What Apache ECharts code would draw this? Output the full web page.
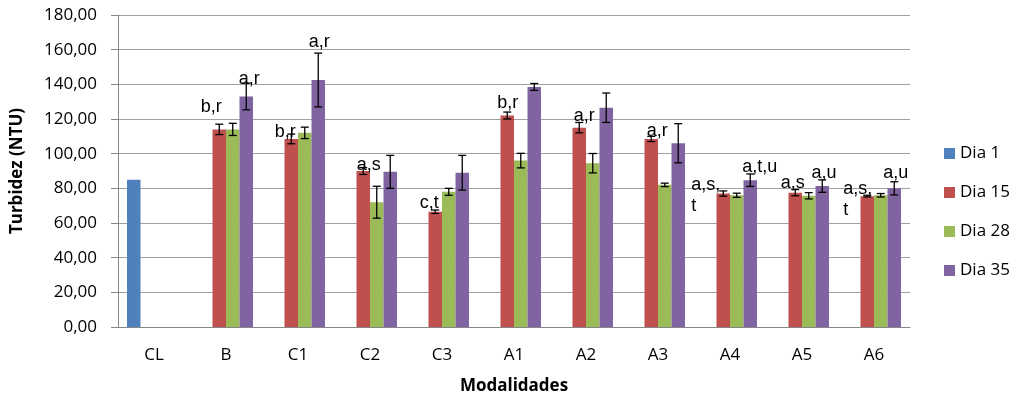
<!DOCTYPE html>
<html>
<head>
<meta charset="utf-8">
<script src="https://cdn.jsdelivr.net/npm/echarts@6/dist/echarts.min.js"></script>
<style>html,body{margin:0;padding:0;background:#fff;}#c{width:1019px;height:400px;}</style>
</head>
<body>
<div id="c"></div>
<script>
// ---- data ----
const categories = ['CL', 'B', 'C1', 'C2', 'C3', 'A1', 'A2', 'A3', 'A4', 'A5', 'A6'];
const seriesNames = ['Dia 1', 'Dia 15', 'Dia 28', 'Dia 35'];
const dia1  = [85, null, null, null, null, null, null, null, null, null, null];
const dia15 = [null, 114, 108.5, 90, 66.5, 122, 115, 108.5, 77, 77.5, 75.5];
const dia28 = [null, 114, 112, 72, 78, 96, 94.5, 82, 76, 75.7, 76];
const dia35 = [null, 133, 142.5, 89.5, 89, 138.5, 126.5, 106, 84.7, 81.3, 80];
const err1  = [null, null, null, null, null, null, null, null, null, null, null];
const err15 = [null, 3, 2.8, 2, 1, 2, 3, 1.5, 1.5, 1.8, 0.5];
const err28 = [null, 3.5, 3.3, 9.2, 2, 4.2, 5.6, 1, 1.2, 1.8, 1];
const err35 = [null, 7.7, 15.5, 9.5, 10, 2, 8.5, 11.3, 3.6, 3.6, 3.8];
const notes1  = ['', '', '', '', '', '', '', '', '', '', ''];
const notes15 = ['', 'b,r', 'b,r', 'a,s', 'c,t', 'b,r', 'a,r', 'a,r', 'a,s,\nt', 'a,s', 'a,s,\nt'];
const notes28 = ['', '', '', '', '', '', '', '', '', '', ''];
const notes35 = ['', 'a,r', 'a,r', '', '', '', '', '', 'a,t,u', 'a,u', 'a,u'];
const yTicks = {min: 0, max: 180, interval: 20};

// ---- layout / style (not data) ----
const colors = ['#4F81BD', '#C0504D', '#9BBB59', '#8064A2'];
const noteOffsets = [
  null,
  [null, [-8, -13], [-6, 2], [5.5, 3], [-6, 0], [0.5, -4], [5, -3], [6, 1], [-32, 23], [-2.5, -1], [-24, 24]],
  null,
  [null, [3, -8], [1, -29], null, null, null, null, null, [9.5, -4], [1.7, -3.7], [1.5, -6.7]]
];

const values = [dia1, dia15, dia28, dia35];
const errs = [err1, err15, err28, err35];
const notes = [notes1, notes15, notes28, notes35];
const nSeries = 4;
const catGap = 0.25;

const series = [];
values.forEach((vals, s) => {
  series.push({
    name: seriesNames[s],
    type: 'bar',
    barGap: '0%',
    barCategoryGap: '25%',
    itemStyle: {color: colors[s]},
    z: 2,
    data: vals.map((v, i) => {
      const txt = notes[s][i];
      const item = {value: v};
      if (txt) {
        const off = noteOffsets[s][i] || [0, 0];
        const multi = txt.indexOf('\n') >= 0;
        item.label = {
          show: true,
          position: 'top',
          distance: 0,
          formatter: txt,
          offset: off,
          align: multi ? 'left' : 'center',
          verticalAlign: 'bottom',
          fontFamily: 'Liberation Sans',
          fontSize: 18,
          lineHeight: multi ? 21 : 18,
          color: '#000'
        };
      }
      return item;
    })
  });
});

values.forEach((vals, s) => {
  series.push({
    name: seriesNames[s] + ' err',
    type: 'custom',
    z: 5,
    silent: true,
    data: vals.map((v, i) => (v == null || errs[s][i] == null) ? null : [i, v, errs[s][i]]).filter(d => d),
    encode: {x: 0, y: 1},
    renderItem: function (params, api) {
      const ci = api.value(0), v = api.value(1), e = api.value(2);
      const band = api.size([1, 0])[0];
      const bw = band * (1 - catGap) / nSeries;
      const c = api.coord([ci, v]);
      const x = c[0] + (s - (nSeries - 1) / 2) * bw;
      const yt = api.coord([ci, v + e])[1];
      const yb = api.coord([ci, v - e])[1];
      const cap = 4;
      const st = {stroke: '#000', lineWidth: 1.3};
      return {
        type: 'group',
        children: [
          {type: 'line', shape: {x1: x, y1: yt, x2: x, y2: yb}, style: st},
          {type: 'line', shape: {x1: x - cap, y1: yt, x2: x + cap, y2: yt}, style: st},
          {type: 'line', shape: {x1: x - cap, y1: yb, x2: x + cap, y2: yb}, style: st}
        ]
      };
    }
  });
});

const chart = echarts.init(document.getElementById('c'), null, {renderer: 'canvas'});
chart.setOption({
  animation: false,
  backgroundColor: '#fff',
  grid: {left: 118, right: 109, top: 15, bottom: 72, containLabel: false},
  legend: {
    data: seriesNames,
    orient: 'vertical',
    left: 944,
    top: 145,
    padding: 0,
    itemWidth: 11,
    itemHeight: 11,
    itemGap: 22,
    icon: 'rect',
    textStyle: {fontFamily: 'Open Sans', fontSize: 17, color: '#000', lineHeight: 16}
  },
  xAxis: {
    type: 'category',
    data: categories,
    name: 'Modalidades',
    nameLocation: 'middle',
    nameGap: 51,
    nameTextStyle: {fontFamily: 'Open Sans', fontSize: 17, fontWeight: 'bold', color: '#000', verticalAlign: 'top'},
    axisLine: {lineStyle: {color: '#868686', width: 1}},
    axisTick: {show: false},
    axisLabel: {fontFamily: 'Open Sans', fontSize: 17, color: '#000', margin: 20}
  },
  yAxis: {
    type: 'value',
    min: yTicks.min,
    max: yTicks.max,
    interval: yTicks.interval,
    name: 'Turbidez (NTU)',
    nameLocation: 'middle',
    nameGap: 92,
    nameTextStyle: {fontFamily: 'Open Sans', fontSize: 17, fontWeight: 'bold', color: '#000'},
    axisLine: {show: true, lineStyle: {color: '#868686', width: 1}},
    axisTick: {show: true, length: 7, lineStyle: {color: '#868686'}},
    axisLabel: {
      fontFamily: 'Open Sans', fontSize: 17, color: '#000', margin: 21,
      formatter: v => v.toFixed(2).replace('.', ',')
    },
    splitLine: {lineStyle: {color: '#a0a0a0', width: 1}}
  },
  series: series
});
</script>
</body>
</html>
